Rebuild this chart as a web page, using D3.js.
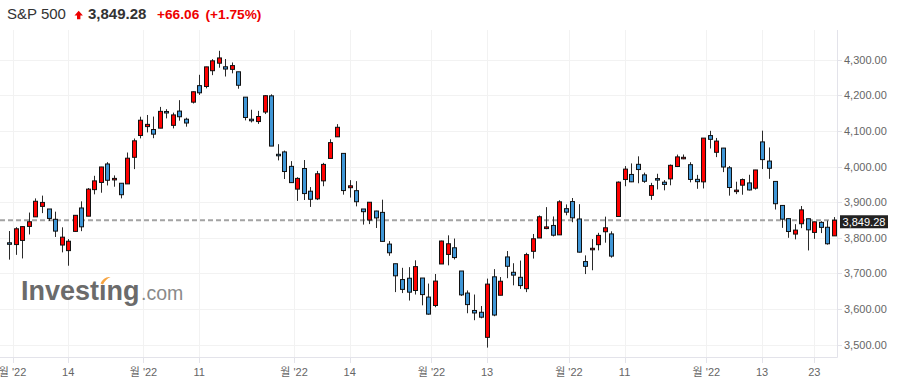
<!DOCTYPE html>
<html><head><meta charset="utf-8">
<script src="https://cdn.jsdelivr.net/npm/d3@7/dist/d3.min.js"></script>
<style>
html,body{margin:0;padding:0;background:#fff;}
svg{display:block;}
text{font-family:"Liberation Sans","Noto Sans CJK KR",Arial,sans-serif;}
</style></head>
<body>
<svg id="chart" width="901" height="385"></svg>
<script>
const dates = ["2022-06-30","2022-07-01","2022-07-05","2022-07-06","2022-07-07","2022-07-08","2022-07-11","2022-07-12","2022-07-13","2022-07-14","2022-07-15","2022-07-18","2022-07-19","2022-07-20","2022-07-21","2022-07-22","2022-07-25","2022-07-26","2022-07-27","2022-07-28","2022-07-29",
"2022-08-01","2022-08-02","2022-08-03","2022-08-04","2022-08-05","2022-08-08","2022-08-09","2022-08-10","2022-08-11","2022-08-12","2022-08-15","2022-08-16","2022-08-17","2022-08-18","2022-08-19","2022-08-22","2022-08-23","2022-08-24","2022-08-25","2022-08-26","2022-08-29","2022-08-30","2022-08-31",
"2022-09-01","2022-09-02","2022-09-06","2022-09-07","2022-09-08","2022-09-09","2022-09-12","2022-09-13","2022-09-14","2022-09-15","2022-09-16","2022-09-19","2022-09-20","2022-09-21","2022-09-22","2022-09-23","2022-09-26","2022-09-27","2022-09-28","2022-09-29","2022-09-30",
"2022-10-03","2022-10-04","2022-10-05","2022-10-06","2022-10-07","2022-10-10","2022-10-11","2022-10-12","2022-10-13","2022-10-14","2022-10-17","2022-10-18","2022-10-19","2022-10-20","2022-10-21","2022-10-24","2022-10-25","2022-10-26","2022-10-27","2022-10-28","2022-10-31",
"2022-11-01","2022-11-02","2022-11-03","2022-11-04","2022-11-07","2022-11-08","2022-11-09","2022-11-10","2022-11-11","2022-11-14","2022-11-15","2022-11-16","2022-11-17","2022-11-18","2022-11-21","2022-11-22","2022-11-23","2022-11-25","2022-11-28","2022-11-29","2022-11-30",
"2022-12-01","2022-12-02","2022-12-05","2022-12-06","2022-12-07","2022-12-08","2022-12-09","2022-12-12","2022-12-13","2022-12-14","2022-12-15","2022-12-16","2022-12-19","2022-12-20","2022-12-21","2022-12-22","2022-12-23","2022-12-27","2022-12-28","2022-12-29"];

const opens = [3785.99,3781.00,3792.61,3831.98,3858.85,3888.26,3880.94,3851.95,3779.67,3763.99,3818.00,3883.79,3860.73,3935.32,3955.47,4007.36,3965.72,3953.22,3951.43,4026.13,4087.33,
4112.38,4104.21,4107.96,4154.85,4115.87,4155.93,4133.11,4181.02,4227.40,4225.02,4269.37,4290.46,4280.40,4273.13,4266.31,4195.08,4133.09,4126.55,4153.26,4198.74,4034.58,4041.25,4000.67,
3936.73,3994.66,3930.89,3909.43,3959.94,4022.94,4083.67,4037.12,3940.73,3932.41,3880.95,3849.91,3875.23,3871.40,3782.36,3727.14,3682.72,3686.44,3651.94,3687.01,3633.48,
3609.78,3726.46,3753.25,3771.97,3706.74,3644.79,3595.86,3590.83,3520.37,3690.41,3638.65,3746.26,3703.11,3689.05,3657.10,3762.01,3799.44,3825.97,3834.69,3808.26,3881.85,
3901.79,3852.90,3733.25,3766.71,3780.71,3817.02,3810.94,3859.89,3963.72,3977.97,4006.41,3976.82,3919.26,3966.39,3956.23,3965.51,4000.30,4023.34,4005.36,3964.19,3957.18,
4087.14,4040.17,4052.02,3996.63,3933.28,3947.79,3954.17,3939.29,4069.38,4015.54,3958.37,3890.91,3853.79,3810.47,3839.49,3853.57,3815.11,3843.34,3829.56,3805.45];

const highs = [3818.99,3829.82,3832.19,3870.91,3910.63,3918.50,3880.94,3873.41,3829.44,3796.41,3863.62,3902.44,3939.81,3974.13,3999.29,4012.44,3975.30,3953.22,4039.56,4078.95,4140.15,
4144.95,4140.47,4167.66,4161.29,4151.58,4186.62,4137.30,4211.03,4257.91,4280.47,4301.79,4325.28,4302.18,4292.53,4266.31,4195.08,4159.77,4156.56,4200.54,4203.04,4062.99,4044.98,4015.37,
3970.23,4018.43,3942.55,3987.89,4010.50,4076.81,4119.28,4037.12,3961.94,3959.14,3880.95,3900.45,3876.01,3907.07,3790.78,3727.14,3715.67,3717.53,3736.74,3687.01,3671.44,
3698.35,3791.92,3806.91,3797.93,3706.74,3652.17,3640.66,3608.34,3685.41,3712.00,3689.73,3762.79,3728.58,3736.00,3757.89,3810.74,3862.85,3886.15,3859.95,3905.42,3893.73,
3911.79,3894.44,3750.59,3796.34,3813.95,3859.40,3818.20,3958.33,4001.48,4008.97,4028.84,3983.09,3954.33,3979.89,3962.00,4005.88,4033.78,4034.02,4012.27,3976.77,4080.11,
4100.51,4080.48,4052.45,4001.51,3957.57,3966.66,3977.02,3990.71,4100.96,4053.76,3958.37,3890.91,3854.86,3838.24,3889.28,3853.57,3845.80,3846.65,3848.32,3858.19];

const lows = [3738.67,3752.10,3742.06,3809.37,3858.85,3869.34,3847.22,3802.36,3759.07,3721.56,3817.18,3818.63,3860.73,3922.03,3926.63,3947.00,3943.46,3910.74,3951.43,3992.97,4079.22,
4096.02,4079.81,4107.96,4135.42,4107.31,4128.97,4112.09,4177.26,4201.41,4219.78,4256.90,4277.77,4253.08,4261.98,4218.70,4129.86,4124.03,4119.97,4147.59,4057.66,4017.42,3965.21,3954.53,
3903.65,3906.21,3886.75,3906.03,3944.81,4022.94,4083.67,3921.21,3912.99,3888.28,3837.08,3838.50,3827.54,3789.49,3749.45,3647.47,3644.76,3623.76,3640.61,3610.40,3584.13,
3604.93,3726.46,3722.66,3739.22,3636.66,3588.10,3568.45,3573.86,3491.58,3579.68,3638.65,3686.53,3666.51,3656.44,3647.42,3741.65,3799.44,3824.07,3803.79,3808.26,3863.18,
3843.80,3758.68,3698.15,3708.84,3764.70,3786.28,3744.22,3859.89,3944.82,3956.40,3953.17,3954.34,3906.54,3935.98,3933.34,3947.51,3998.66,4020.76,3955.77,3937.65,3938.58,
4050.87,4026.63,3984.49,3918.39,3922.68,3921.00,3933.04,3935.30,3993.03,3965.65,3879.45,3827.91,3800.04,3795.62,3827.10,3764.49,3797.01,3813.22,3780.78,3805.45];

const closes = [3785.38,3825.33,3831.39,3845.08,3902.62,3899.38,3854.43,3818.80,3801.78,3790.38,3863.16,3830.85,3936.69,3959.90,3998.95,3961.63,3966.84,3921.05,4023.61,4072.43,4130.29,
4118.63,4091.19,4155.17,4151.94,4145.19,4140.06,4122.47,4210.24,4207.27,4280.15,4297.14,4305.20,4274.04,4283.74,4228.48,4137.99,4128.73,4140.77,4199.12,4057.66,4030.61,3986.16,3955.00,
3966.85,3924.26,3908.19,3979.87,4006.18,4067.36,4110.41,3932.69,3946.01,3901.35,3873.33,3899.89,3855.93,3789.93,3757.99,3693.23,3655.04,3647.29,3719.04,3640.47,3585.62,
3678.43,3790.93,3783.28,3744.52,3639.66,3612.39,3588.84,3577.03,3669.91,3583.07,3677.95,3719.98,3695.16,3665.78,3752.75,3797.34,3859.11,3830.60,3807.30,3901.06,3871.98,
3856.10,3759.69,3719.89,3770.55,3806.80,3828.11,3748.57,3956.37,3992.93,3957.25,3991.73,3958.79,3946.56,3965.34,3949.94,4003.58,4027.26,4026.12,3963.94,3957.63,4080.11,
4076.57,4071.70,3998.84,3941.26,3933.92,3963.51,3934.38,3990.56,4019.65,3995.32,3895.75,3852.36,3817.66,3821.62,3878.44,3822.39,3844.82,3829.25,3783.22,3849.28];

const yTicks = [3500,3600,3700,3800,3900,4000,4100,4200,4300];
const tickDates = ["2022-07-01","2022-07-14","2022-08-01","2022-08-11","2022-09-01","2022-09-14","2022-10-03","2022-10-13","2022-11-01","2022-11-11","2022-12-01","2022-12-13","2022-12-23"];
const tickLabels = ["월 '22","14","월 '22","11","월 '22","14","월 '22","13","월 '22","11","월 '22","13","23"];

const titleName = "S&P 500";
const lastPrice = 3849.28;
const change = "+66.06";
const changePct = "(+1.75%)";

const svg = d3.select("#chart");
const plotLeft = 0, plotRight = 837, plotTop = 30, plotBottom = 357;
const UP = "#ff0000", DOWN = "#3f96d6";

const x = d3.scaleLinear().domain([0, dates.length - 1]).range([9.3, 834]);
const y = d3.scaleLinear().domain([3500, 4300]).range([344.6, 59.8]);
const fmt = d3.format(",.2f");

// tick positions (month ticks sit half a bar before the first trading day)
const ticks = tickDates.map((d, i) => {
  const idx = dates.indexOf(d);
  const isMonth = tickLabels[i].indexOf("월") >= 0;
  return {pos: x(isMonth ? idx - 0.5 : idx), label: tickLabels[i]};
});

// grid
const grid = svg.append("g");
grid.selectAll("line.h").data(yTicks).enter().append("line")
  .attr("x1", plotLeft).attr("x2", plotRight)
  .attr("y1", d => Math.round(y(d)) + 0.5).attr("y2", d => Math.round(y(d)) + 0.5)
  .attr("stroke", "#f2f2f2").attr("stroke-width", 1);
grid.selectAll("line.v").data(ticks).enter().append("line")
  .attr("x1", d => Math.round(d.pos) + 0.5).attr("x2", d => Math.round(d.pos) + 0.5)
  .attr("y1", plotTop).attr("y2", plotBottom)
  .attr("stroke", "#f2f2f2").attr("stroke-width", 1);

// watermark
const wm = svg.append("g");
wm.append("text").attr("x", 21).attr("y", 300)
  .attr("font-size", 27).attr("font-weight", "bold").attr("fill", "#6b6b6b")
  .text("Invest\u0131ng");
wm.append("text").attr("x", 141).attr("y", 300)
  .attr("font-size", 19.5).attr("fill", "#8a8a8a").text(".com");
wm.append("path").attr("d", "M100.5,283.5 Q104,276 110.5,277 Q105.5,279 103,284.5 Z").attr("fill", "#f7a440");

// price line
svg.append("line").attr("x1", plotLeft).attr("x2", plotRight)
  .attr("y1", y(lastPrice)).attr("y2", y(lastPrice))
  .attr("stroke", "#a3a3a3").attr("stroke-width", 2).attr("stroke-dasharray", "5,3");

// candles
const data = dates.map((d, i) => ({i, o: opens[i], h: highs[i], l: lows[i], c: closes[i]}));
const cg = svg.append("g");
cg.selectAll("line.w").data(data).enter().append("line")
  .attr("x1", d => Math.round(x(d.i)) + 0.5).attr("x2", d => Math.round(x(d.i)) + 0.5)
  .attr("y1", d => y(d.h)).attr("y2", d => y(d.l))
  .attr("stroke", "#2a2a2a").attr("stroke-width", 1);
cg.selectAll("rect").data(data).enter().append("rect")
  .attr("x", d => Math.round(x(d.i)) - 1.5)
  .attr("width", 4)
  .attr("y", d => y(Math.max(d.o, d.c)))
  .attr("height", d => Math.max(1.5, Math.abs(y(d.o) - y(d.c))))
  .attr("fill", d => d.c >= d.o ? UP : DOWN)
  .attr("stroke", "#111").attr("stroke-width", 1);

// axes lines
svg.append("line").attr("x1", plotLeft).attr("x2", plotRight + 0.5)
  .attr("y1", plotBottom + 0.5).attr("y2", plotBottom + 0.5)
  .attr("stroke", "#e3e3ea").attr("stroke-width", 1);
svg.append("line").attr("x1", plotRight + 0.5).attr("x2", plotRight + 0.5)
  .attr("y1", plotTop).attr("y2", plotBottom + 0.5)
  .attr("stroke", "#e3e3ea").attr("stroke-width", 1);

// x ticks and labels
const xa = svg.append("g");
xa.selectAll("line").data(ticks).enter().append("line")
  .attr("x1", d => Math.round(d.pos) + 0.5).attr("x2", d => Math.round(d.pos) + 0.5)
  .attr("y1", plotBottom).attr("y2", plotBottom + 6)
  .attr("stroke", "#e3e3ea");
xa.selectAll("text").data(ticks).enter().append("text")
  .attr("x", d => d.pos).attr("y", 376)
  .attr("text-anchor", "middle").attr("font-size", 11).attr("fill", "#666")
  .text(d => d.label);

// y ticks and labels
const ya = svg.append("g");
ya.selectAll("line").data(yTicks).enter().append("line")
  .attr("x1", plotRight).attr("x2", plotRight + 5)
  .attr("y1", d => Math.round(y(d)) + 0.5).attr("y2", d => Math.round(y(d)) + 0.5)
  .attr("stroke", "#e3e3ea");
ya.selectAll("text").data(yTicks).enter().append("text")
  .attr("x", 844).attr("y", d => y(d) + 4)
  .attr("font-size", 11).attr("fill", "#666")
  .text(d => fmt(d));

// current price tag
const py = y(lastPrice);
svg.append("rect").attr("x", 840).attr("y", py - 5).attr("width", 48).attr("height", 13).attr("fill", "#222");
svg.append("text").attr("x", 864).attr("y", py + 5.5).attr("text-anchor", "middle")
  .attr("font-size", 11).attr("fill", "#fff").text(fmt(lastPrice));

// title
const t = svg.append("g");
t.append("text").attr("x", 7).attr("y", 18.5).attr("font-size", 15).attr("fill", "#333").text(titleName);
t.append("path").attr("d", "M74.5,15.5 L78.7,10.8 L82.9,15.5 L80.4,15.5 L80.4,19.3 L77,19.3 L77,15.5 Z").attr("fill", "#ee0000");
t.append("text").attr("x", 88).attr("y", 18.5).attr("font-size", 15).attr("font-weight", "bold").attr("fill", "#333").text(fmt(lastPrice));
t.append("text").attr("x", 157).attr("y", 18.5).attr("font-size", 13.7).attr("font-weight", "bold").attr("fill", "#ee0000").text(change);
t.append("text").attr("x", 205.5).attr("y", 18.5).attr("font-size", 13.7).attr("font-weight", "bold").attr("fill", "#ee0000").text(changePct);
</script>
</body></html>
